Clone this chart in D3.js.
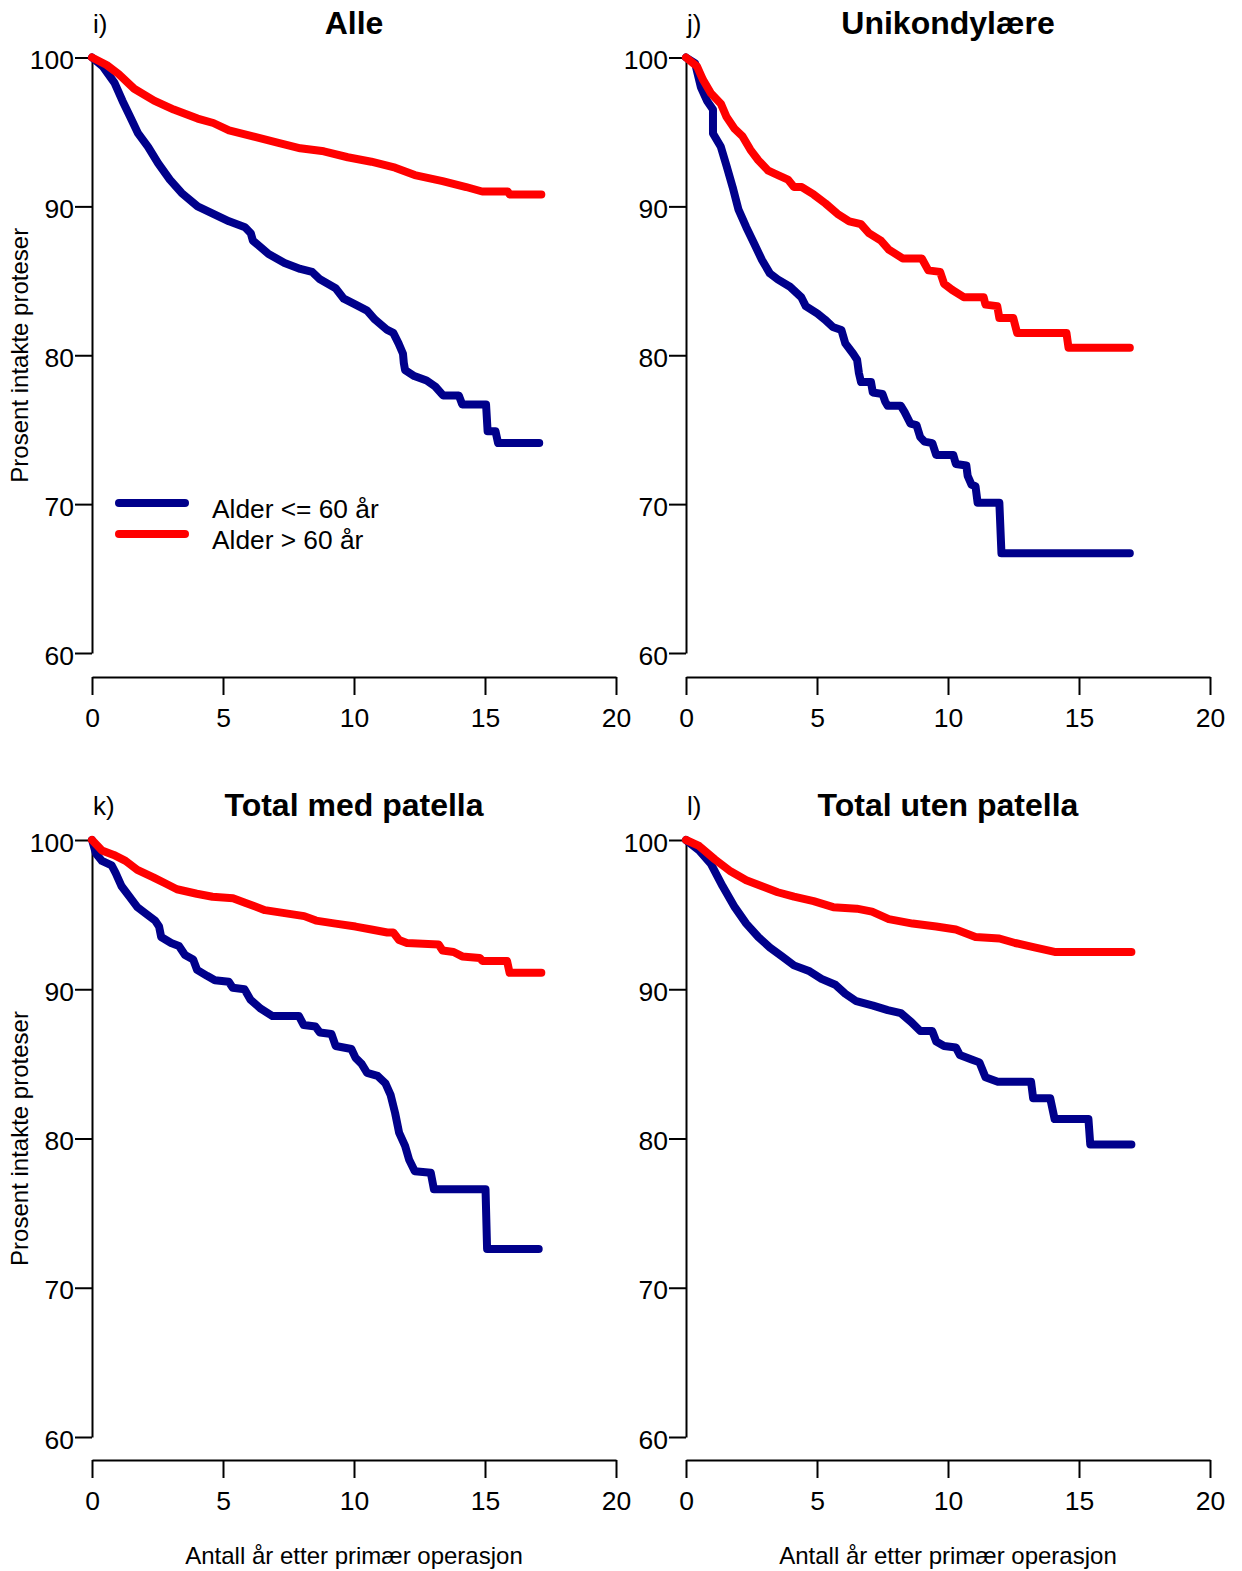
<!DOCTYPE html>
<html>
<head>
<meta charset="utf-8">
<script src="https://cdn.jsdelivr.net/npm/d3@7"></script>
<style>
  body { margin: 0; background: #fff; }
  svg { display: block; }
  text { font-family: "Liberation Sans", Arial, sans-serif; fill: #000; }
</style>
</head>
<body>
<div id="chart"></div>
<script>
// x tick values (years) and y tick values (percent)
const yearTicks = [0, 5, 10, 15, 20];
const pctTicks = [60, 70, 80, 90, 100];

const seriesNames = ["Alder <= 60 år", "Alder > 60 år"];

// [years, percent]
const alleUnder = [[0,100],[0.41,99.4],[0.86,98.3],[1.16,97.1],[1.46,96.0],[1.76,94.9],[2.14,94.0],[2.52,92.9],[2.97,91.8],[3.42,90.9],[4.03,90.0],[4.63,89.5],[5.23,89.0],[5.84,88.6],[6.06,88.2],[6.14,87.7],[6.74,86.8],[7.35,86.2],[7.95,85.8],[8.4,85.6],[8.7,85.1],[9.3,84.5],[9.61,83.8],[10.06,83.4],[10.5,83.0],[10.8,82.4],[11.27,81.7],[11.5,81.5],[11.7,80.8],[11.87,80.1],[11.9,79.5],[11.95,79.0],[12.3,78.6],[12.77,78.3],[13.1,77.9],[13.4,77.3],[14.0,77.3],[14.13,76.7],[15.04,76.7],[15.1,74.9],[15.4,74.9],[15.5,74.1],[17.07,74.1]];
const alleOver = [[0,100],[0.56,99.5],[1.01,98.9],[1.61,97.9],[2.37,97.1],[3.12,96.5],[4.03,95.9],[4.63,95.6],[5.23,95.1],[6.14,94.7],[7.04,94.3],[7.95,93.9],[8.85,93.7],[9.76,93.3],[10.66,93.0],[11.57,92.6],[12.32,92.1],[13.38,91.7],[14.28,91.3],[14.89,91.0],[15.87,91.0],[15.94,90.8],[17.15,90.8]];

const uniUnder = [[0,100],[0.35,99.6],[0.57,98.0],[0.8,97.1],[1.03,96.5],[1.03,94.9],[1.33,94.0],[1.55,92.7],[1.78,91.3],[2.0,89.8],[2.3,88.6],[2.6,87.5],[2.9,86.4],[3.2,85.5],[3.5,85.1],[3.97,84.6],[4.4,83.9],[4.57,83.3],[5.02,82.8],[5.3,82.4],[5.6,81.9],[5.93,81.7],[6.08,80.8],[6.38,80.1],[6.53,79.7],[6.6,78.8],[6.68,78.2],[7.06,78.2],[7.13,77.5],[7.5,77.4],[7.6,76.9],[7.7,76.6],[8.2,76.6],[8.34,76.2],[8.57,75.4],[8.8,75.3],[8.94,74.5],[9.1,74.2],[9.4,74.1],[9.55,73.3],[10.2,73.3],[10.3,72.7],[10.7,72.6],[10.75,71.9],[10.9,71.3],[11.05,71.2],[11.13,70.1],[11.96,70.1],[12.04,66.7],[16.94,66.7]];
const uniOver = [[0,100],[0.42,99.4],[0.65,98.5],[0.95,97.6],[1.33,96.9],[1.55,96.0],[1.86,95.2],[2.16,94.7],[2.46,93.8],[2.76,93.1],[3.14,92.4],[3.51,92.1],[3.89,91.8],[4.12,91.3],[4.42,91.3],[4.87,90.8],[5.32,90.2],[5.78,89.5],[6.23,89.0],[6.68,88.8],[6.98,88.2],[7.44,87.7],[7.74,87.1],[8.27,86.5],[9.0,86.5],[9.25,85.7],[9.7,85.6],[9.85,84.8],[10.15,84.4],[10.6,83.9],[11.36,83.9],[11.43,83.4],[11.88,83.3],[11.96,82.5],[12.49,82.5],[12.64,81.5],[14.52,81.5],[14.6,80.5],[16.94,80.5]];

const medUnder = [[0,100],[0.15,99.1],[0.38,98.6],[0.75,98.3],[0.9,97.8],[1.13,96.9],[1.43,96.2],[1.73,95.5],[2.03,95.1],[2.41,94.6],[2.56,94.2],[2.64,93.5],[3.02,93.1],[3.32,92.9],[3.55,92.3],[3.86,92.0],[4.01,91.3],[4.39,90.9],[4.69,90.6],[5.22,90.5],[5.37,90.1],[5.82,90.0],[6.05,89.3],[6.44,88.7],[6.89,88.2],[7.9,88.2],[8.08,87.6],[8.53,87.5],[8.7,87.1],[9.14,87.0],[9.3,86.2],[9.9,86.0],[10.06,85.4],[10.29,85.0],[10.5,84.4],[10.9,84.2],[11.2,83.7],[11.4,82.9],[11.57,81.7],[11.72,80.4],[11.95,79.5],[12.1,78.6],[12.32,77.8],[12.93,77.7],[13.05,76.6],[15.02,76.6],[15.08,72.6],[17.05,72.6]];
const medOver = [[0,100],[0.38,99.3],[0.83,99.0],[1.28,98.6],[1.73,98.0],[2.34,97.5],[2.79,97.1],[3.24,96.7],[4.0,96.4],[4.6,96.2],[5.38,96.1],[5.84,95.8],[6.6,95.3],[7.35,95.1],[8.1,94.9],[8.55,94.6],[9.3,94.4],[10.06,94.2],[10.66,94.0],[11.27,93.8],[11.5,93.8],[11.72,93.3],[12.02,93.1],[13.23,93.0],[13.38,92.6],[13.8,92.5],[14.13,92.2],[14.8,92.1],[14.9,91.9],[15.84,91.9],[15.94,91.1],[17.15,91.1]];

const utenUnder = [[0,100],[0.5,99.3],[0.95,98.4],[1.4,96.9],[1.86,95.5],[2.3,94.4],[2.76,93.5],[3.2,92.8],[3.67,92.2],[4.12,91.6],[4.72,91.2],[5.17,90.7],[5.7,90.3],[6.08,89.7],[6.5,89.2],[7.14,88.9],[7.7,88.6],[8.2,88.4],[8.6,87.8],[8.94,87.2],[9.4,87.2],[9.55,86.5],[9.85,86.2],[10.3,86.1],[10.45,85.6],[10.9,85.3],[11.2,85.1],[11.36,84.4],[11.43,84.1],[11.9,83.8],[13.17,83.8],[13.25,82.7],[13.9,82.7],[14.07,81.3],[15.36,81.3],[15.43,79.6],[17.0,79.6]];
const utenOver = [[0,100],[0.5,99.6],[1.1,98.7],[1.7,97.9],[2.3,97.3],[2.9,96.9],[3.5,96.5],[4.12,96.2],[4.87,95.9],[5.62,95.5],[6.52,95.4],[7.1,95.2],[7.74,94.7],[8.65,94.4],[9.55,94.2],[10.3,94.0],[11.05,93.5],[11.96,93.4],[12.56,93.1],[13.3,92.8],[14.07,92.5],[17.0,92.5]];

const colors = ["#00008b", "#ff0000"];

const panels = [
  {tag: "i)", title: "Alle", under: alleUnder, over: alleOver, x0: 92, yTop: 57.5, yBot: 653, axisY: 677, legend: true, ylab: true},
  {tag: "j)", title: "Unikondylære", under: uniUnder, over: uniOver, x0: 686, yTop: 57.5, yBot: 653, axisY: 677},
  {tag: "k)", title: "Total med patella", under: medUnder, over: medOver, x0: 92, yTop: 840, yBot: 1437, axisY: 1460, ylab: true, xlab: true},
  {tag: "l)", title: "Total uten patella", under: utenUnder, over: utenOver, x0: 686, yTop: 840, yBot: 1437, axisY: 1460, xlab: true}
];

const svg = d3.select("#chart").append("svg")
  .attr("width", 1242)
  .attr("height", 1571)
  .style("background", "#fff");

panels.forEach(function(p) {
  const x = d3.scaleLinear().domain([0, 20]).range([p.x0, p.x0 + 524]);
  const y = d3.scaleLinear().domain([60, 100]).range([p.yBot, p.yTop]);

  const g = svg.append("g");

  // y axis
  const yAxis = g.append("g")
    .attr("transform", `translate(${p.x0},0)`)
    .call(d3.axisLeft(y).tickValues(pctTicks).tickSize(17).tickSizeOuter(0).tickPadding(1));
  // x axis
  const xAxis = g.append("g")
    .attr("transform", `translate(0,${p.axisY})`)
    .call(d3.axisBottom(x).tickValues(yearTicks).tickSize(18).tickSizeOuter(0).tickPadding(13));

  [yAxis, xAxis].forEach(function(a) {
    a.attr("font-size", 26.5).attr("font-family", null);
    a.selectAll("path, line").attr("stroke", "#000").attr("stroke-width", 2);
    a.selectAll("text").attr("fill", "#000");
  });
  yAxis.selectAll("text").attr("dy", "0.42em");

  // titles
  g.append("text")
    .attr("x", p.x0 + 262).attr("y", p.yTop - 24)
    .attr("text-anchor", "middle")
    .attr("font-size", 32).attr("font-weight", "bold")
    .text(p.title);
  g.append("text")
    .attr("x", p.x0 + 1).attr("y", p.yTop - 25)
    .attr("font-size", 26)
    .text(p.tag);

  if (p.ylab) {
    g.append("text")
      .attr("transform", `translate(28,${(p.yTop + p.yBot) / 2}) rotate(-90)`)
      .attr("text-anchor", "middle")
      .attr("font-size", 24)
      .text("Prosent intakte proteser");
  }
  if (p.xlab) {
    g.append("text")
      .attr("x", p.x0 + 262).attr("y", 1564)
      .attr("text-anchor", "middle")
      .attr("font-size", 24)
      .text("Antall år etter primær operasjon");
  }

  const line = d3.line()
    .x(d => x(d[0]))
    .y(d => y(d[1]));

  [p.under, p.over].forEach(function(s, i) {
    g.append("path")
      .datum(s)
      .attr("fill", "none")
      .attr("stroke", colors[i])
      .attr("stroke-width", 8)
      .attr("stroke-linejoin", "round")
      .attr("stroke-linecap", "round")
      .attr("d", line);
  });

  if (p.legend) {
    seriesNames.forEach(function(name, i) {
      const ly = 503 + i * 31;
      g.append("line")
        .attr("x1", 119).attr("x2", 185)
        .attr("y1", ly).attr("y2", ly)
        .attr("stroke", colors[i])
        .attr("stroke-width", 8)
        .attr("stroke-linecap", "round");
      g.append("text")
        .attr("x", 212).attr("y", ly + 15)
        .attr("font-size", 26.3)
        .text(name);
    });
  }
});
</script>
</body>
</html>
